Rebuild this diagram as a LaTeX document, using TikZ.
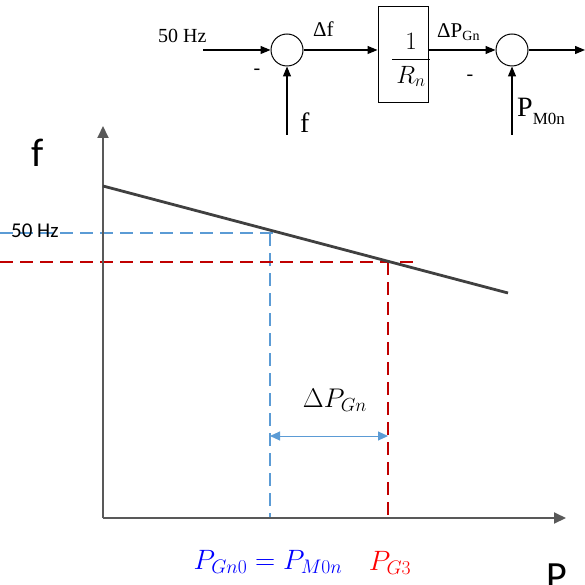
\RequirePackage{fix-cm}
\documentclass[tikz,border=0pt]{standalone}
\usepackage{amsmath}
\usepackage[no-math]{fontspec}
\setmainfont{Liberation Serif}
\newfontfamily\calibri{Carlito}
\usetikzlibrary{arrows.meta}
\definecolor{axisgray}{HTML}{595959}
\definecolor{droopgray}{HTML}{404040}
\definecolor{dashblue}{HTML}{5B9BD5}
\definecolor{dashred}{HTML}{C00000}
\newcommand{\fs}[1]{\fontsize{#1}{#1}\selectfont}
\begin{document}
\begin{tikzpicture}[x=1pt, y=-1pt, every node/.style={inner sep=0pt}]
  \tikzstyle{sum}=[draw,circle,line width=1pt,minimum size=32pt]
  \tikzstyle{sig}=[-{Triangle[length=10pt,width=8pt]},line width=1.2pt]
  \tikzstyle{axis}=[-{Triangle[length=12pt,width=11pt]},axisgray,line width=2pt]
  \tikzstyle{bdash}=[dashblue,line width=1.8pt,dash pattern=on 13pt off 7pt]
  \tikzstyle{rdash}=[dashred,line width=1.8pt,dash pattern=on 13pt off 7pt]
  \useasboundingbox (0,0) rectangle (585,585);
  % block diagram
  \node[sum] (sum1) at (287,50) {};
  \node[sum] (sum2) at (512,50) {};
  \node[draw,line width=1pt,minimum width=50pt,minimum height=96pt] (gain) at (403,55) {};
  \node at (411,60) {\fs{25}$\dfrac{1}{\,R_n\,}$};
  \coordinate (in50) at (203,50);
  \coordinate (inf) at (287,135);
  \coordinate (inpm) at (512,135);
  \coordinate (out) at (585,50);
  \draw[sig] (in50) -- (sum1);
  \draw[sig] (inf) -- (sum1);
  \draw[sig] (sum1) -- (sum1 -| gain.west);
  \draw[sig] (gain.east |- sum2) -- (sum2);
  \draw[sig] (inpm) -- (sum2);
  \draw[sig] (sum2) -- (out);
  \node[anchor=base west] (hz) at (158,43) {\fs{20}50 Hz};
  \node[anchor=base west] (df) at (313,37) {\fs{21}Δf};
  \node[anchor=base west] (dpg) at (437,38) {\fs{21}ΔP\raisebox{-3pt}{\fs{14}Gn}};
  \node[anchor=base west] (fin) at (300,133) {\fs{28}f};
  \node[anchor=base west] (pm) at (517,117) {\fs{28}P\raisebox{-8pt}{\fs{17}M0n}};
  \node (m1) at (257,72) {\fs{20}-};
  \node (m2) at (470,78) {\fs{20}-};
  % droop characteristic
  \coordinate (origin) at (103,518);
  \coordinate (ytip) at (103,126);
  \coordinate (xtip) at (566,518);
  \draw[bdash] (0,233) -- (278,233);
  \draw[bdash] (270,233) -- (270,518);
  \draw[rdash] (0,262) -- (415,262);
  \draw[rdash] (388,262) -- (388,518);
  \draw[axis] (origin) -- (ytip);
  \draw[axis] (origin) -- (xtip);
  \draw[droopgray,line width=2.8pt] (103,186) -- (508,293);
  \coordinate (pa) at (270,436);
  \coordinate (pb) at (388,436);
  \draw[{Triangle[length=10pt,width=9pt]}-{Triangle[length=10pt,width=9pt]},dashblue,line width=1pt] (pa) -- (pb);
  \node[anchor=base west] (flab) at (31,167) {\calibri\fs{40}f};
  \node[anchor=base west] (plab) at (546,589) {\calibri\fs{40}P};
  \node[anchor=base west] (hzlab) at (11,237) {\calibri\fs{21}50 Hz};
  \node (dpgn) at (335,400) {\fs{27}$\Delta P_{Gn}$};
  \node[blue] (pg0) at (268,562) {\fs{28}$P_{Gn0}=P_{M0n}$};
  \node[red] (pg3) at (390,563) {\fs{28}$P_{G3}$};
\end{tikzpicture}
\end{document}
